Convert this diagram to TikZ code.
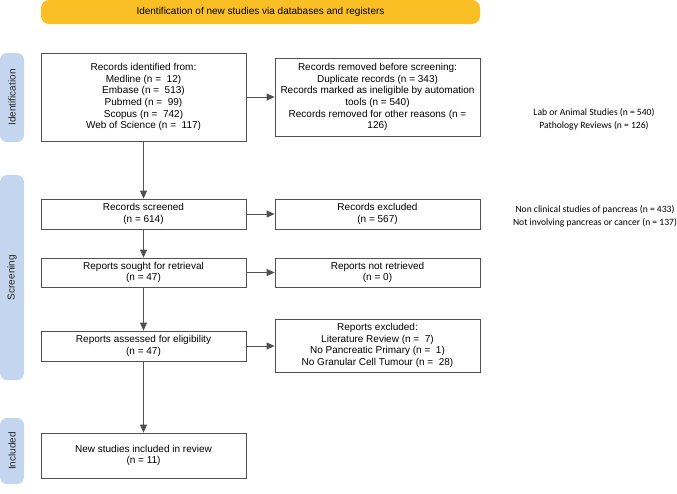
\documentclass[tikz,border=0pt]{standalone}
\usepackage{fontspec}
\setmainfont{Liberation Sans}
\newfontfamily\calib{Carlito}
\usetikzlibrary{arrows.meta}
\definecolor{bannerc}{HTML}{FBBF26}
\definecolor{sidec}{HTML}{C4D6EF}
\definecolor{edgec}{HTML}{505050}
\begin{document}
\begin{tikzpicture}[x=1pt,y=-1pt,
  box/.style={draw=edgec,line width=0.8pt,fill=white,minimum width=205pt,align=center,inner sep=1pt,font=\fontsize{10}{11.7}\selectfont},
  sidebar/.style={fill=sidec,rounded corners=7pt,minimum width=24pt,inner sep=0pt},
  sidetext/.style={rotate=90,font=\fontsize{10}{11}\selectfont,text=black!85},
  note/.style={align=center,font=\calib\fontsize{9.6}{13}\selectfont},
  arr/.style={draw=edgec,line width=0.8pt,-{Triangle[length=8pt,width=7pt]}}]
\useasboundingbox (0,0) rectangle (677,493);
% banner
\node[fill=bannerc,rounded corners=8pt,minimum width=439pt,minimum height=24pt,inner sep=0pt,font=\fontsize{10}{11}\selectfont] (banner) at (260.5,12) {Identification of new studies via databases and registers};
% side bars
\node[sidebar,minimum height=89pt] (sbid) at (12,97.5) {};
\node[sidetext] (tid) at (sbid.center) {Identification};
\node[sidebar,minimum height=205pt] (sbsc) at (12,277.5) {};
\node[sidetext] (tsc) at (sbsc.center) {Screening};
\node[sidebar,minimum height=66pt] (sbin) at (12,451) {};
\node[sidetext] (tin) at (sbin.center) {Included};
% boxes
\node[box,minimum height=88pt] (ident) at (143.5,97) {Records identified from:\\Medline (n =\ \ 12)\\Embase (n =\ \ 513)\\Pubmed (n =\ \ 99)\\Scopus (n =\ \ 742)\\Web of Science (n =\ \ 117)};
\node[box,minimum height=78pt] (removed) at (377.5,97) {Records removed before screening:\\Duplicate records (n = 343)\\Records marked as ineligible by automation\\tools (n = 540)\\Records removed for other reasons (n =\\126)};
\node[box,minimum height=30pt] (screened) at (143.5,214) {Records screened\\(n = 614)};
\node[box,minimum height=30pt] (excluded) at (377.5,214) {Records excluded\\(n = 567)};
\node[box,minimum height=29pt] (sought) at (143.5,272.5) {Reports sought for retrieval\\(n = 47)};
\node[box,minimum height=29pt] (notret) at (377.5,272.5) {Reports not retrieved\\(n = 0)};
\node[box,minimum height=30pt] (assessed) at (143.5,346) {Reports assessed for eligibility\\(n = 47)};
\node[box,minimum height=53pt] (repexcl) at (377.5,345.5) {Reports excluded:\\Literature Review (n =\ \ 7)\\No Pancreatic Primary (n =\ \ 1)\\No Granular Cell Tumour (n =\ \ 28)};
\node[box,minimum height=45pt] (included) at (143.5,455.5) {New studies included in review\\(n = 11)};
% notes
\node[note] (note1) at (594,119.5) {Lab or Animal Studies (n = 540)\\Pathology Reviews (n = 126)};
\node[note] (note2) at (595,216) {Non clinical studies of pancreas (n = 433)\\Not involving pancreas or cancer (n = 137)};
% arrows
\draw[arr] (ident.east) -- (ident.east -| removed.west);
\draw[arr] (screened.east) -- (screened.east -| excluded.west);
\draw[arr] (sought.east) -- (sought.east -| notret.west);
\draw[arr] (assessed.east) -- (assessed.east -| repexcl.west);
\draw[arr] (ident.south) -- (screened.north);
\draw[arr] (screened.south) -- (sought.north);
\draw[arr] (sought.south) -- (assessed.north);
\draw[arr] (assessed.south) -- (included.north);
\end{tikzpicture}
\end{document}
